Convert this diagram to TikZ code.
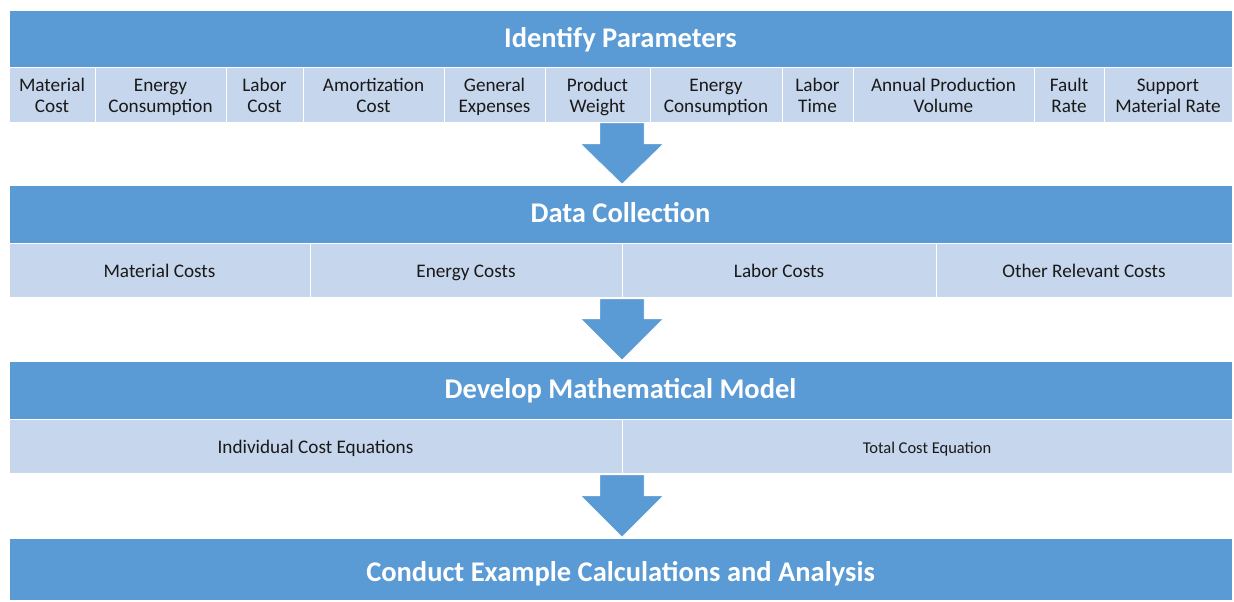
\documentclass[tikz,border=0pt]{standalone}
\usepackage{fontspec}
\setmainfont{Carlito}
\usetikzlibrary{calc}
\definecolor{hdrblue}{RGB}{91,155,213}
\definecolor{celllight}{RGB}{198,214,236}
\definecolor{celltext}{RGB}{25,25,25}
\tikzset{
  hdrbox/.style={rectangle, fill=hdrblue, draw=white, line width=0.8pt, outer sep=0pt, inner sep=0pt,
    minimum width=1223pt, minimum height=58pt, anchor=north west, text=white,
    text height=23pt, text depth=6pt,
    font=\fontsize{28.5}{32}\selectfont\bfseries},
  cellbox/.style={rectangle, fill=celllight, draw=white, line width=1pt, outer sep=0pt, inner sep=0pt,
    minimum height=54pt, anchor=north west, text=celltext, align=center,
    font=\fontsize{19.2}{21}\selectfont},
  flowarrow/.style={fill=hdrblue, draw=white, line width=0.4pt}
}
\newcommand\twol[2]{#1\rule{0pt}{20.7pt}\\#2\rule[-6.3pt]{0pt}{6.3pt}}
\newcommand\onel[1]{#1\rule[-6.3pt]{0pt}{27pt}}
\newcommand\downarrowshape[3]{% top coordinate, shaft length, tip
  \path[flowarrow] ($(#1)+(-22,0)$) -- ($(#1)+(22,0)$) -- ($(#1)+(22,#2)$) -- ($(#1)+(41,#2)$)
    -- (#3) -- ($(#1)+(-41,#2)$) -- ($(#1)+(-22,#2)$) -- cycle;}
\begin{document}
\begin{tikzpicture}[x=1pt,y=-1pt]
\useasboundingbox (0,0) rectangle (1234,602);
% Stage 1
\node[hdrbox] (h1) at (9,10) {Identify Parameters};
\node[cellbox, minimum width=86pt] (p1) at (h1.south west) {\twol{Material}{Cost}};
\node[cellbox, minimum width=131pt] (p2) at (p1.north east) {\twol{Energy}{Consumption}};
\node[cellbox, minimum width=77pt] (p3) at (p2.north east) {\twol{Labor}{Cost}};
\node[cellbox, minimum width=141pt] (p4) at (p3.north east) {\twol{Amortization}{Cost}};
\node[cellbox, minimum width=101pt] (p5) at (p4.north east) {\twol{General}{Expenses}};
\node[cellbox, minimum width=105pt] (p6) at (p5.north east) {\twol{Product}{Weight}};
\node[cellbox, minimum width=132pt] (p7) at (p6.north east) {\twol{Energy}{Consumption}};
\node[cellbox, minimum width=71pt] (p8) at (p7.north east) {\twol{Labor}{Time}};
\node[cellbox, minimum width=181pt] (p9) at (p8.north east) {\twol{Annual Production}{Volume}};
\node[cellbox, minimum width=70pt] (p10) at (p9.north east) {\twol{Fault}{Rate}};
\node[cellbox, minimum width=128pt] (p11) at (p10.north east) {\twol{Support}{Material Rate}};
% Stage 2
\node[hdrbox] (h2) at (9,185) {Data Collection};
\node[cellbox, minimum width=301pt] (d1) at (h2.south west) {\onel{Material Costs}};
\node[cellbox, minimum width=312pt] (d2) at (d1.north east) {\onel{Energy Costs}};
\node[cellbox, minimum width=314pt] (d3) at (d2.north east) {\onel{Labor Costs}};
\node[cellbox, minimum width=296pt] (d4) at (d3.north east) {\onel{Other Relevant Costs}};
% Stage 3
\node[hdrbox] (h3) at (9,361) {Develop Mathematical Model};
\node[cellbox, minimum width=613pt] (m1) at (h3.south west) {\onel{Individual Cost Equations}};
\node[cellbox, minimum width=610pt, font=\fontsize{16.5}{19}\selectfont] (m2) at (m1.north east) {\onel{Total Cost Equation}};
% Stage 4
\node[hdrbox, minimum height=62pt, text height=30pt] (h4) at (9,538) {Conduct Example Calculations and Analysis};
% Arrows
\coordinate (a1top) at (622,123);
\coordinate (a1tip) at (622,184);
\coordinate (a2top) at (622,299);
\coordinate (a2tip) at (622,360);
\coordinate (a3top) at (622,475);
\coordinate (a3tip) at (622,537);
\downarrowshape{a1top}{21}{a1tip}
\downarrowshape{a2top}{20}{a2tip}
\downarrowshape{a3top}{21}{a3tip}
\end{tikzpicture}
\end{document}
